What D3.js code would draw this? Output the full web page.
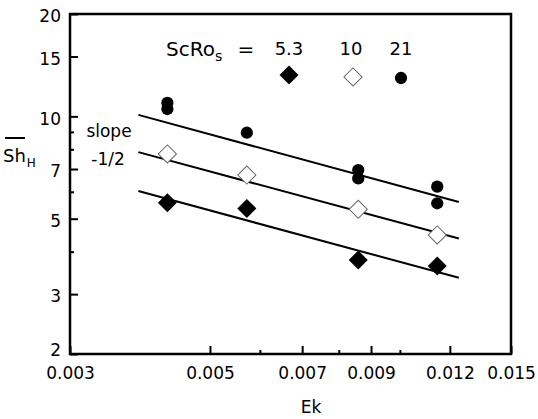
<!DOCTYPE html>
<html>
<head>
<meta charset="utf-8">
<script src="https://cdn.jsdelivr.net/npm/d3@7/dist/d3.min.js"></script>
<style>
    html, body { margin: 0; padding: 0; background: #fff; }
    svg { display: block; font-family: "DejaVu Sans", sans-serif; }
</style>
</head>
<body>
<div id="chart"></div>
<script>
// Ek positions of the measurements
const ekValues = [0.00428, 0.00572, 0.00859, 0.01146];
// ScRo_s = 5.3 (filled diamonds)
const shLow = [5.57, 5.36, 3.78, 3.63];
// ScRo_s = 10 (open diamonds)
const shMid = [7.75, 6.72, 5.33, 4.48];
// ScRo_s = 21 (circles), two runs at some Ek
const highEk = [0.00428, 0.00428, 0.00572, 0.00859, 0.00859, 0.01146, 0.01146];
const shHigh = [10.95, 10.51, 8.95, 6.95, 6.57, 6.21, 5.55];

// slope -1/2 lines: Sh at both ends
const fitEk = [0.00385, 0.0124];
const fitLow = [6.03, 3.35];
const fitMid = [7.85, 4.37];
const fitHigh = [10.1, 5.6];

const seriesLabels = ['5.3', '10', '21'];
const xTicks = [0.003, 0.005, 0.007, 0.009, 0.012, 0.015];
const xMinor = [0.006, 0.008, 0.010];
const yTicks = [2, 3, 5, 7, 10, 15, 20];
const yMinor = [4, 6, 8, 9];

class ChartBox {
    constructor(el) {
        this.$el = el;
        this.realW = 538;
        this.realH = 419;
        this.margin = { top: 14, right: 27, bottom: 65, left: 70 };
        this.init();
    }
    init() {
        this.renderSvg();
        this.renderAxes();
        this.renderLines();
        this.renderPoints();
        this.renderLegend();
        this.renderTitles();
    }
    renderSvg() {
        this.svg = d3.select(this.$el)
            .append('svg')
            .attr('width', this.realW)
            .attr('height', this.realH);
        let m = this.margin;
        this.x = d3.scaleLog().domain([0.003, 0.015]).range([m.left, this.realW - m.right]);
        this.y = d3.scaleLog().domain([2, 20]).range([this.realH - m.bottom, m.top]);
    }
    renderAxes() {
        let x = this.x, y = this.y;
        let bottom = y.range()[0];
        let left = x.range()[0];

        // 下
        this.svg.append('g')
            .attr('transform', `translate(0,${bottom})`)
            .call(d3.axisBottom(x).tickValues(xTicks).tickSize(-8).tickPadding(13)
                .tickFormat(d3.format('.3f')));
        this.svg.append('g')
            .attr('transform', `translate(0,${bottom})`)
            .call(d3.axisBottom(x).tickValues(xMinor).tickSize(-4).tickFormat(''));

        // 左
        let gy = this.svg.append('g')
            .attr('transform', `translate(${left},0)`)
            .call(d3.axisLeft(y).tickValues(yTicks).tickSize(-8).tickPadding(9)
                .tickFormat(d3.format('d')));
        this.svg.append('g')
            .attr('transform', `translate(${left},0)`)
            .call(d3.axisLeft(y).tickValues(yMinor).tickSize(-4).tickFormat(''));

        this.svg.selectAll('.domain').remove();
        this.svg.selectAll('.tick line').attr('stroke', '#000').attr('stroke-width', 2);
        this.svg.selectAll('.tick text').attr('fill', '#000').attr('font-size', 17)
            .attr('font-family', '"DejaVu Sans", sans-serif');
        gy.selectAll('.tick text').attr('dy', d => d === 2 ? '0.1em' : '0.45em');

        this.svg.append('rect')
            .attr('x', left)
            .attr('y', y.range()[1])
            .attr('width', x.range()[1] - left)
            .attr('height', bottom - y.range()[1])
            .attr('fill', 'none')
            .attr('stroke', '#000')
            .attr('stroke-width', 2.5);
    }
    renderLines() {
        let line = d3.line()
            .x(d => this.x(d[0]))
            .y(d => this.y(d[1]));
        [fitLow, fitMid, fitHigh].forEach(sh => {
            this.svg.append('path')
                .attr('d', line(d3.zip(fitEk, sh)))
                .attr('fill', 'none')
                .attr('stroke', '#000')
                .attr('stroke-width', 2);
        });
    }
    drawDiamond(g, cx, cy, filled) {
        g.append('path')
            .attr('d', d3.symbol(d3.symbolSquare, filled ? 180 : 165)())
            .attr('transform', `translate(${cx},${cy}) rotate(45)`)
            .attr('fill', filled ? '#000' : '#fff')
            .attr('stroke', filled ? 'none' : '#666')
            .attr('stroke-width', 1);
    }
    drawCircle(g, cx, cy) {
        g.append('path')
            .attr('d', d3.symbol(d3.symbolCircle, 118)())
            .attr('transform', `translate(${cx},${cy})`)
            .attr('fill', '#000');
    }
    renderPoints() {
        let g = this.svg.append('g').attr('class', 'points');
        ekValues.forEach((ek, i) => this.drawDiamond(g, this.x(ek), this.y(shMid[i]), false));
        ekValues.forEach((ek, i) => this.drawDiamond(g, this.x(ek), this.y(shLow[i]), true));
        highEk.forEach((ek, i) => this.drawCircle(g, this.x(ek), this.y(shHigh[i])));
    }
    renderLegend() {
        let g = this.svg.append('g').attr('class', 'legend');
        let t = g.append('text')
            .attr('x', 166)
            .attr('y', 56)
            .attr('font-size', 20);
        t.append('tspan').text('ScRo');
        t.append('tspan').attr('font-size', 14).attr('dy', 5).text('s');
        g.append('text').attr('x', 246).attr('y', 56).attr('font-size', 20)
            .attr('text-anchor', 'middle').text('=');

        let xs = [289, 351, 401];
        seriesLabels.forEach((s, i) => {
            g.append('text')
                .attr('x', xs[i])
                .attr('y', 55)
                .attr('font-size', 18)
                .attr('text-anchor', 'middle')
                .text(s);
        });
        this.drawDiamond(g, xs[0], 75, true);
        this.drawDiamond(g, xs[1] + 2, 77, false);
        this.drawCircle(g, xs[2], 78);
    }
    renderTitles() {
        this.svg.append('text')
            .attr('x', 311)
            .attr('y', 413)
            .attr('font-size', 17)
            .attr('text-anchor', 'middle')
            .text('Ek');

        // Sh with overline and subscript H
        let t = this.svg.append('text')
            .attr('x', 3)
            .attr('y', 162)
            .attr('font-size', 18);
        t.append('tspan').text('Sh');
        t.append('tspan').attr('font-size', 12).attr('dy', 5).attr('dx', 1).text('H');
        this.svg.append('line')
            .attr('x1', 5).attr('x2', 25)
            .attr('y1', 138).attr('y2', 138)
            .attr('stroke', '#000')
            .attr('stroke-width', 2);

        this.svg.append('text')
            .attr('x', 109).attr('y', 137)
            .attr('font-size', 17)
            .attr('text-anchor', 'middle')
            .text('slope');
        this.svg.append('text')
            .attr('x', 108).attr('y', 165)
            .attr('font-size', 17)
            .attr('text-anchor', 'middle')
            .text('-1/2');
    }
}

new ChartBox(document.getElementById('chart'));
</script>
</body>
</html>
